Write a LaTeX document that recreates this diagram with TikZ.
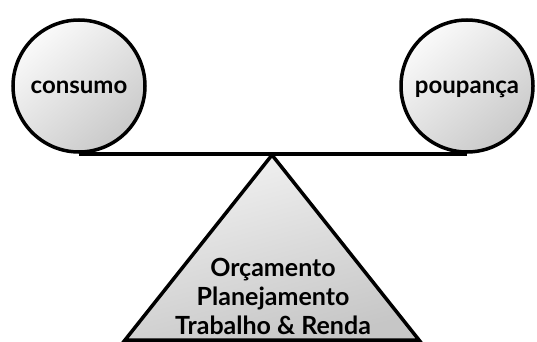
\documentclass[tikz,border=0pt]{standalone}
\usepackage{fontspec}
\setmainfont{Lato}
\usetikzlibrary{positioning}

\tikzset{
	peso/.style = {circle, draw, line width = 3.5pt, minimum size = 132pt, inner sep = 0pt,
		text height = 17pt, text depth = 2pt,
		top color = gray!4, bottom color = gray!42, shading angle = 40,
		font = \fontsize{24}{28}\selectfont\bfseries},
	rotulo/.style = {align = center, font = \fontsize{25}{29}\selectfont\bfseries}
}

\begin{document}
\begin{tikzpicture}[x = 1pt, y = 1pt]
\useasboundingbox (0,0) rectangle (537,341);
\clip (0,0) rectangle (537,341);

%apoio
\coordinate (topo) at (272,186);
\coordinate (baseE) at (125,1);
\coordinate (baseD) at (419,1);
\draw[line width = 3.5pt, line join = miter, top color = gray!10, bottom color = gray!45, shading angle = 15]
	(topo) -- (baseD) -- (baseE) -- cycle;
\node[rotulo] (apoio) at (273,45) {Orçamento\\Planejamento\\Trabalho \& Renda};

%pesos e barra
\node[peso] (consumo) at (79,255) {consumo};
\node[peso] (poupanca) at (467,255) {poupança};
\draw[line width = 3.5pt] (consumo.south) -- (poupanca.south);
\end{tikzpicture}
\end{document}
